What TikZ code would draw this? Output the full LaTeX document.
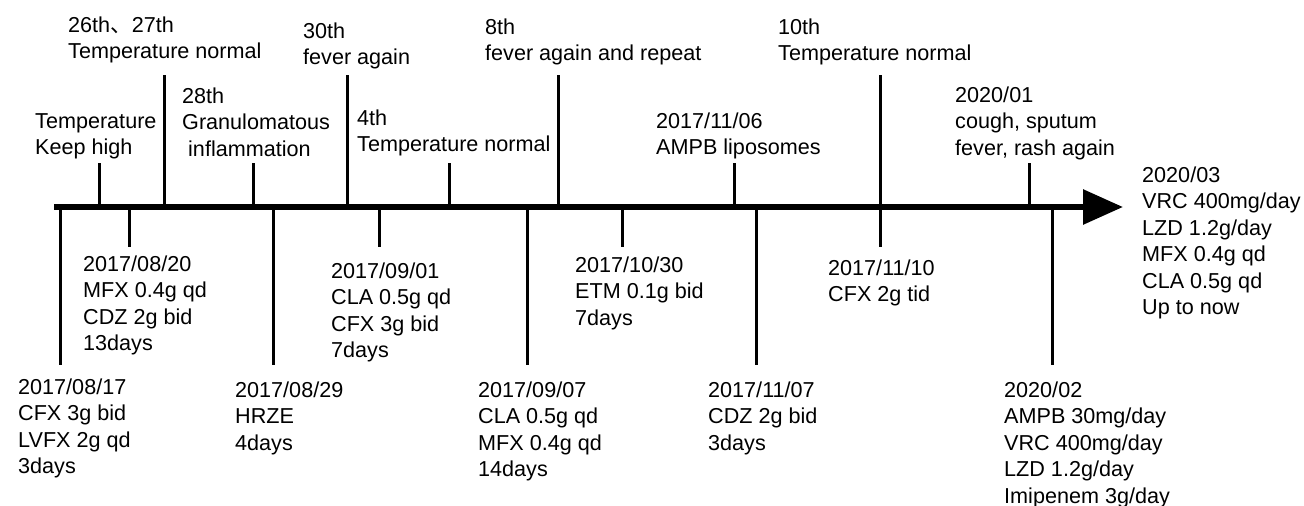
\documentclass[tikz,border=0pt]{standalone}
\usepackage{fontspec}
\setmainfont{Liberation Sans}
\newfontfamily\cjk{Noto Sans CJK SC}
\usetikzlibrary{arrows.meta}
\tikzset{
  every picture/.style={x=1pt, y=-1pt},
  axis/.style={line width=6pt, -{Triangle[length=40pt, width=34pt]}},
  tick/.style={line width=3pt},
  % #1 = number of lines, the node is placed by the baseline of its first line
  lbl/.style={anchor=base west, align=left, inner sep=0pt, yshift={-(#1-1)*26.5pt},
    font=\fontsize{21.6}{26.5}\selectfont},
}
\begin{document}
\begin{tikzpicture}
  \useasboundingbox (0,0) rectangle (1304,506);
  \coordinate (start) at (54,207);
  \coordinate (tip) at (1123,207);
  \draw[axis] (start) -- (tip);
  % ticks: name/x/free end
  \foreach \n/\x/\y in {high/99/163, norm/164/75, gran/253/163, fev/347/75, four/449/163,
      rep/558/75, lipo/734/163, ten/880/75, cough/1029/163,
      d0817/60/365, d0820/129/247, d0829/273/365, d0901/379/247, d0907/527/365,
      d1030/622/247, d1107/756/365, d1110/880/247, d2002/1052/365}{
    \coordinate (\n) at (\x,207);
    \coordinate (\n-end) at (\x,\y);
    \draw[tick] (\n) -- (\n-end);
  }
  % above the axis
  \node[lbl=2] (hightxt)  at (35,128)   {Temperature\\Keep high};
  \node[lbl=2] (normtxt)  at (68,32)    {26th{\cjk 、}27th\\Temperature normal};
  \node[lbl=3] (grantxt)  at (182,103)  {28th\\Granulomatous\\\ inflammation};
  \node[lbl=2] (fevtxt)   at (303,38)   {30th\\fever again};
  \node[lbl=2] (fourtxt)  at (357,125)  {4th\\Temperature normal};
  \node[lbl=2] (reptxt)   at (485,34)   {8th\\fever again and repeat};
  \node[lbl=2] (lipotxt)  at (656,128)  {2017/11/06\\AMPB liposomes};
  \node[lbl=2] (tentxt)   at (778,34)   {10th\\Temperature normal};
  \node[lbl=3] (coughtxt) at (955,102)  {2020/01\\cough, sputum\\fever, rash again};
  \node[lbl=6] (nowtxt)   at (1142,182) {2020/03\\VRC 400mg/day\\LZD 1.2g/day\\MFX 0.4g qd\\CLA 0.5g qd\\Up to now};
  % below the axis
  \node[lbl=4] (t0817) at (18,394)   {2017/08/17\\CFX 3g bid\\LVFX 2g qd\\3days};
  \node[lbl=4] (t0820) at (83,271)   {2017/08/20\\MFX 0.4g qd\\CDZ 2g bid\\13days};
  \node[lbl=3] (t0829) at (235,397)  {2017/08/29\\HRZE\\4days};
  \node[lbl=4] (t0901) at (331,278)  {2017/09/01\\CLA 0.5g qd\\CFX 3g bid\\7days};
  \node[lbl=4] (t0907) at (478,397)  {2017/09/07\\CLA 0.5g qd\\MFX 0.4g qd\\14days};
  \node[lbl=3] (t1030) at (575,272)  {2017/10/30\\ETM 0.1g bid\\7days};
  \node[lbl=3] (t1107) at (708,397)  {2017/11/07\\CDZ 2g bid\\3days};
  \node[lbl=2] (t1110) at (828,275)  {2017/11/10\\CFX 2g tid};
  \node[lbl=5] (t2002) at (1004,397) {2020/02\\AMPB 30mg/day\\VRC 400mg/day\\LZD 1.2g/day\\Imipenem 3g/day};
\end{tikzpicture}
\end{document}
